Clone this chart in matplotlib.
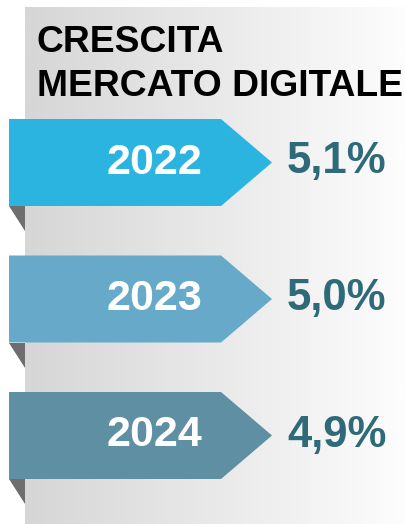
import numpy as np
import matplotlib.pyplot as plt
from matplotlib.colors import LinearSegmentedColormap
from matplotlib.patches import Polygon

# ── Data ──────────────────────────────────────────────────────
YEARS  = ["2022", "2023", "2024"]
GROWTH = [5.1, 5.0, 4.9]          # % growth
TITLE_LINES = ["CRESCITA", "MERCATO DIGITALE"]

RIBBON_COLORS = ["#2cb4e1", "#66a9c8", "#5f8fa2"]
VALUE_COLOR   = "#2e6a79"
FOLD_COLOR    = "#6e6e6e"

W, H = 405, 524
FONT = ["Liberation Sans", "DejaVu Sans"]

fig = plt.figure(figsize=(W / 100, H / 100), dpi=100)
ax = fig.add_axes([0, 0, 1, 1])
ax.set_xlim(0, W)
ax.set_ylim(H, 0)
ax.axis("off")

# grey panel with horizontal gradient
grad = np.linspace(0, 1, 256).reshape(1, -1)
bg_cmap = LinearSegmentedColormap.from_list("bg", ["#d6d6d6", "#e9e9e9", "#fdfdfd"])
ax.imshow(grad, cmap=bg_cmap, extent=(25, W, H, 7), aspect="auto", zorder=0)

# title, one text per line
for line, base in zip(TITLE_LINES, [52, 96]):
    ax.text(37, base, line, fontsize=26.8, fontweight="bold", family=FONT,
            color="black", va="baseline", ha="left")

# ribbons
top0, step, h = 119, 136.5, 87
x0, xr, xt, fold_x = 9, 221, 272, 25
for i, (yr, g) in enumerate(zip(YEARS, GROWTH)):
    top = top0 + i * step
    bot = top + h
    mid = (top + bot) / 2
    ax.add_patch(Polygon([(x0, bot), (fold_x, bot), (fold_x, bot + 25)],
                         closed=True, facecolor=FOLD_COLOR, edgecolor="none", zorder=1))
    ax.add_patch(Polygon([(x0, top), (xr, top), (xt, mid), (xr, bot), (x0, bot)],
                         closed=True, facecolor=RIBBON_COLORS[i], edgecolor="none", zorder=2))
    ax.text(154, mid + 11, yr, fontsize=31, fontweight="bold", family=FONT,
            color="white", ha="center", va="baseline", zorder=3)
    ax.text(287, mid + 11, f"{g:.1f}%".replace(".", ","), fontsize=31.5,
            fontweight="bold", family=FONT, color=VALUE_COLOR,
            ha="left", va="baseline", zorder=3)

fig.savefig("out.png", dpi=100, facecolor="white")
